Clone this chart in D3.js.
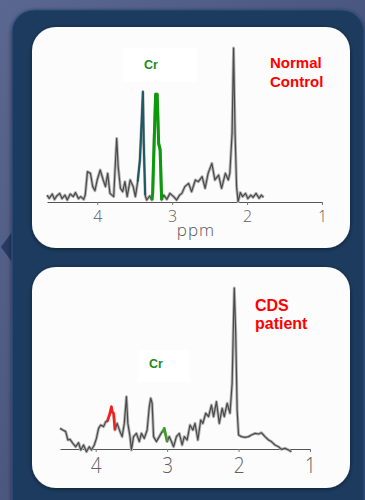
<!DOCTYPE html>
<html>
<head>
<meta charset="utf-8">
<script src="https://cdn.jsdelivr.net/npm/d3@7"></script>
<style>
  body { margin: 0; background: #4a5880; }
  svg { display: block; }
</style>
</head>
<body>
<svg id="chart" width="365" height="500"></svg>
<script>
// ---- data (ppm vs. relative intensity) ----
const controlPpm = [4.67,4.64,4.60,4.57,4.54,4.50,4.47,4.43,4.40,4.36,4.32,4.29,4.25,4.22,4.18,4.16,4.13,4.09,4.06,4.03,4.00,3.96,3.92,3.89,3.86,3.83,3.78,3.76,3.74,3.72,3.69,3.66,3.63,3.60,3.56,3.52,3.49,3.46,3.43,3.40,3.39,3.38,3.36,3.34,3.30,3.27,3.26,3.24,3.22,3.20,3.18,3.16,3.14,3.11,3.07,3.03,2.98,2.94,2.90,2.87,2.83,2.78,2.74,2.69,2.65,2.60,2.56,2.52,2.47,2.43,2.38,2.34,2.29,2.25,2.23,2.20,2.18,2.16,2.14,2.12,2.09,2.06,2.02,1.99,1.95,1.92,1.88,1.84,1.81,1.78];
const controlIntensity = [4.5,2.4,5.2,1.7,3.9,5.6,2.2,4.5,1.3,5.2,3.5,6.1,2.2,3.5,1.7,4.5,19.7,18.6,10.0,7.4,14.3,20.8,14.3,10.0,18.6,5.6,3.5,22.9,41.3,22.9,8.9,6.7,13.2,3.5,14.3,10.0,3.5,13.2,27.3,59.7,71.6,40.3,4.5,1.3,3.9,1.3,5.6,39.2,69.9,69.9,38.1,33.8,1.3,4.5,1.7,5.6,3.5,1.3,4.5,5.6,10.0,12.1,6.7,14.3,13.2,16.5,8.9,18.6,25.1,14.3,17.5,8.9,18.6,14.3,18.6,44.6,100,44.6,10.0,0.2,6.1,3.5,5.6,2.2,4.5,3.0,5.6,2.4,4.5,3.0];

const patientPpm = [4.50,4.46,4.42,4.39,4.36,4.32,4.28,4.24,4.21,4.17,4.13,4.09,4.06,4.02,3.99,3.96,3.93,3.89,3.86,3.84,3.80,3.78,3.77,3.75,3.73,3.70,3.66,3.63,3.60,3.57,3.55,3.52,3.50,3.47,3.43,3.39,3.36,3.32,3.28,3.25,3.23,3.21,3.19,3.15,3.11,3.07,3.06,3.04,3.02,3.00,2.97,2.94,2.91,2.87,2.83,2.79,2.76,2.72,2.68,2.64,2.61,2.57,2.53,2.50,2.46,2.42,2.38,2.35,2.31,2.27,2.23,2.20,2.16,2.12,2.09,2.07,2.06,2.04,2.02,2.00,1.96,1.91,1.86,1.82,1.77,1.72,1.68,1.63,1.58,1.54,1.49,1.44,1.40,1.35,1.30,1.26];
const patientIntensity = [12.8,11.8,10.8,5.6,6.0,3.5,1.4,3.9,-0.6,2.5,-1.7,1.4,-0.6,2.5,6.6,12.8,14.9,13.9,17.0,17.0,22.2,26.3,23.2,22.2,11.8,15.9,10.8,7.7,15.9,32.5,15.9,7.7,-0.6,7.7,9.7,4.6,9.7,6.6,11.8,26.3,31.5,28.4,7.7,4.6,7.7,10.8,10.8,12.8,8.7,4.6,7.7,4.6,1.4,7.7,9.7,2.5,7.7,5.6,14.9,11.8,15.9,5.6,18.0,15.9,22.2,20.1,27.3,20.1,29.4,15.9,25.3,20.1,28.4,22.2,40.8,82.2,100,71.8,24.2,8.7,7.7,7.2,7.7,8.7,9.7,9.3,10.1,7.7,5.6,4.6,2.5,1.4,-0.2,0.4,-0.6,-1.7];

// highlighted ppm ranges (from, to)
const controlTealRange = [3.46, 3.36];
const controlCrRange = [3.27, 3.14];
const patientRedRange = [3.84, 3.73];
const patientCrRange = [3.07, 3.00];

const tickValues = [4, 3, 2, 1];

const svg = d3.select('#chart');
const defs = svg.append('defs');

// ---- background ----
const bg = defs.append('linearGradient').attr('id', 'bg')
  .attr('x1', 0).attr('y1', 0).attr('x2', 1).attr('y2', 1);
bg.append('stop').attr('offset', '0%').attr('stop-color', '#5a6891');
bg.append('stop').attr('offset', '100%').attr('stop-color', '#3a4870');

const shadow = defs.append('filter').attr('id', 'shadow')
  .attr('x', '-10%').attr('y', '-10%').attr('width', '120%').attr('height', '120%');
shadow.append('feDropShadow').attr('dx', 0).attr('dy', 1).attr('stdDeviation', 2)
  .attr('flood-color', '#000').attr('flood-opacity', 0.5);

svg.append('rect').attr('width', 365).attr('height', 500).attr('fill', 'url(#bg)');
svg.append('path').attr('d', 'M12,232 L1,247 L12,262 Z').attr('fill', '#263a62');
svg.append('rect')
  .attr('x', 12).attr('y', 10).attr('width', 352).attr('height', 530).attr('rx', 22)
  .attr('fill', '#1b3a5f').attr('stroke', '#2f5080').attr('stroke-width', 1.2)
  .attr('filter', 'url(#shadow)');

function drawPanel(opts) {
  const g = svg.append('g');
  g.append('rect')
    .attr('x', opts.box[0]).attr('y', opts.box[1])
    .attr('width', opts.box[2]).attr('height', opts.box[3]).attr('rx', 24)
    .attr('fill', '#fcfcfc').attr('filter', 'url(#shadow)');
  g.append('rect')
    .attr('x', opts.crBox[0]).attr('y', opts.crBox[1])
    .attr('width', opts.crBox[2]).attr('height', opts.crBox[3])
    .attr('fill', '#ffffff');

  const x = d3.scaleLinear().domain(opts.xDomain).range(opts.xRange);
  const y = d3.scaleLinear().domain([0, 100]).range(opts.yRange);

  const pts = opts.ppm.map((p, i) => ({ ppm: p, v: opts.intensity[i] }));
  const line = d3.line().x(d => x(d.ppm)).y(d => y(d.v));

  // axis
  const axis = g.append('g')
    .attr('transform', 'translate(0,' + opts.yRange[0] + ')')
    .call(d3.axisBottom(x).tickValues(tickValues).tickSize(3).tickSizeOuter(0).tickFormat(d3.format('d')));
  axis.select('.domain').attr('stroke', '#555').attr('stroke-width', 1);
  axis.selectAll('.tick line').attr('stroke', '#777');
  axis.selectAll('.tick text')
    .attr('fill', '#606060')
    .attr('font-family', '"Open Sans", sans-serif')
    .attr('font-weight', 300)
    .attr('font-size', opts.tickFont)
    .attr('dy', 0)
    .attr('y', opts.tickBaseline / opts.tickScaleY)
    .attr('transform', 'scale(1,' + opts.tickScaleY + ')');

  // trace
  g.append('path').datum(pts).attr('d', line)
    .attr('fill', 'none').attr('stroke', '#b5b5b5').attr('stroke-width', 3)
    .attr('stroke-linejoin', 'round');
  g.append('path').datum(pts).attr('d', line)
    .attr('fill', 'none').attr('stroke', '#4a4a4a').attr('stroke-width', 1.2)
    .attr('stroke-linejoin', 'round');

  opts.highlights.forEach(h => {
    const seg = pts.filter(d => d.ppm <= h.range[0] && d.ppm >= h.range[1]);
    g.append('path').datum(seg).attr('d', line)
      .attr('fill', 'none').attr('stroke', h.color).attr('stroke-width', h.width)
      .attr('stroke-linejoin', 'round');
  });

  g.append('text')
    .attr('x', opts.crPos[0]).attr('y', opts.crPos[1])
    .attr('fill', '#1a8c1a').attr('font-family', '"Liberation Sans", Arial, sans-serif')
    .attr('font-weight', 'bold').attr('font-size', 12.5).text('Cr');

  const lbl = g.append('text')
    .attr('fill', '#ff0000').attr('font-family', '"Liberation Sans", Arial, sans-serif')
    .attr('font-weight', 'bold').attr('font-size', opts.labelFont);
  opts.label.forEach((t, i) => {
    lbl.append('tspan').attr('x', opts.labelPos[0])
      .attr('y', opts.labelPos[1] + i * opts.labelGap).text(t);
  });
  return g;
}

const controlPanel = drawPanel({
  box: [32, 27, 318, 221],
  crBox: [122, 48, 75, 34],
  ppm: controlPpm, intensity: controlIntensity,
  xDomain: [4.67, 1.0], xRange: [47, 322], yRange: [202, 48],
  tickFont: 16, tickBaseline: 20, tickScaleY: 1,
  highlights: [
    { range: controlTealRange, color: '#1d5a63', width: 2 },
    { range: controlCrRange, color: '#0a9a0a', width: 3 }
  ],
  crPos: [144, 69],
  label: ['Normal', 'Control'], labelPos: [270, 68], labelGap: 19, labelFont: 15
});
controlPanel.append('text')
  .attr('x', 196).attr('y', 236).attr('text-anchor', 'middle')
  .attr('fill', '#555').attr('font-family', '"Open Sans", sans-serif').attr('font-weight', 300)
  .attr('font-size', 17).attr('letter-spacing', 1).text('ppm');

drawPanel({
  box: [32, 267, 318, 221],
  crBox: [138, 350, 52, 32],
  ppm: patientPpm, intensity: patientIntensity,
  xDomain: [4.5, 1.0], xRange: [60, 310], yRange: [449, 288],
  tickFont: 19, tickBaseline: 24, tickScaleY: 1.15,
  highlights: [
    { range: patientRedRange, color: '#ff1a1a', width: 2.5 },
    { range: patientCrRange, color: '#3aa020', width: 2.5 }
  ],
  crPos: [149, 368],
  label: ['CDS', 'patient'], labelPos: [255, 311], labelGap: 18, labelFont: 16
});
</script>
</body>
</html>
